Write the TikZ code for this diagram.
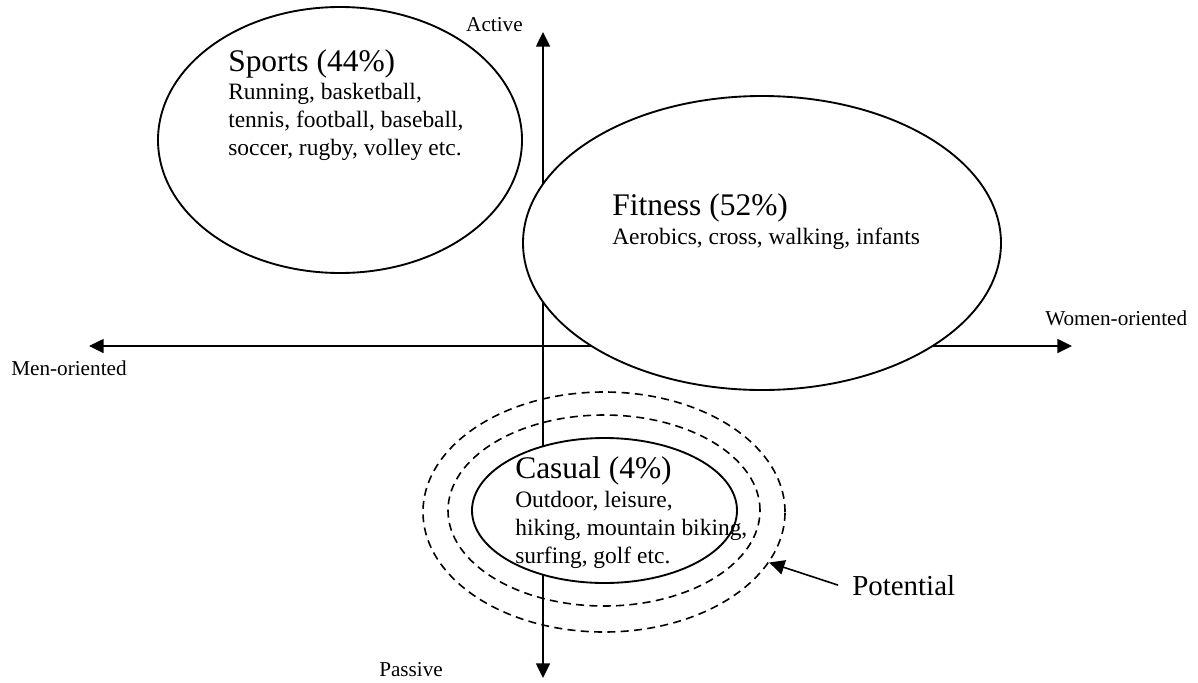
\documentclass[tikz,border=0pt]{standalone}
\usepackage{fontspec}
\setmainfont{Liberation Serif}
\usetikzlibrary{shapes.geometric,arrows.meta,positioning}
\tikzset{
  zone/.style={
    shape = ellipse,
    draw,
    fill = white,
    line width = 1.4pt,
    inner sep = 0pt
  },
  halo/.style={
    shape = ellipse,
    draw,
    dash pattern = on 6pt off 4pt,
    line width = 1.2pt,
    inner sep = 0pt
  },
  axis/.style={
    line width = 1.1pt,
    {Triangle[length=11pt,width=10.5pt]}-{Triangle[length=11pt,width=10.5pt]}
  },
  pointer/.style={
    line width = 1.2pt,
    -{Triangle[length=11.5pt,width=11pt]}
  },
  zonetitle/.style={
    anchor = base west,
    inner sep = 0pt,
    font = \fontsize{23.6}{28}\selectfont
  },
  zonetext/.style={
    anchor = base west,
    inner sep = 0pt,
    font = \fontsize{17.6}{21}\selectfont
  },
  axlabel/.style={
    inner sep = 0pt,
    font = \fontsize{15.9}{19}\selectfont
  }
}

\begin{document}
\begin{tikzpicture}[x=0.75pt,y=-0.75pt]
    \def\px{0.75pt}
    \def\ox{543}
    \def\oy{346}
    \def\dl{28}
    \useasboundingbox (0,0) rectangle (1198,682);
    \coordinate (top) at (\ox,32);
    \coordinate (bottom) at (\ox,678);
    \coordinate (left) at (89,\oy);
    \coordinate (right) at (1072,\oy);
    \node[zone, minimum width=364*\px, minimum height=266*\px] (sports) at (340,140) {};
    \node[halo, minimum width=362*\px, minimum height=240*\px] (outer) at (604,512) {};
    \node[halo, minimum width=312*\px, minimum height=191*\px] (inner) at (604,510.5) {};
    \draw[axis] (bottom) -- (top);
    \draw[axis] (left) -- (right);
    \node[zone, minimum width=478*\px, minimum height=294*\px] (fitness) at (762,243) {};
    \node[zone, minimum width=265*\px, minimum height=145*\px] (casual) at (604.5,510.5) {};
    \node[zonetitle] (sportsT) at (228,71) {Sports (44\%)};
    \foreach \t [count=\i] in {{Running, basketball,},{tennis, football, baseball,},{soccer, rugby, volley etc.}}{
    \node[zonetext] (sports\i) at (228,71+\i*\dl) {\t};}
    \node[zonetitle] (fitnessT) at (612,215) {Fitness (52\%)};
    \node[zonetext] (fitness1) at (612,244) {Aerobics, cross, walking, infants};
    \node[zonetitle] (casualT) at (515,478) {Casual (4\%)};
    \foreach \t [count=\i] in {{Outdoor, leisure,},{hiking, mountain biking,},{surfing, golf etc.}}{
    \node[zonetext] (casual\i) at (515,479+\i*\dl) {\t};}
    \node[axlabel, anchor=base east] (active) at (523,31) {Active};
    \node[axlabel, anchor=base west] (passive) at (379,676) {Passive};
    \node[axlabel, anchor=base west] (men) at (11,375) {Men-oriented};
    \node[axlabel, anchor=base west] (women) at (1045,325) {Women-oriented};
    \node[anchor=base west, inner sep=0pt, font=\fontsize{21.7}{26}\selectfont] (potential) at (852,595) {Potential};
    \draw[pointer] ([xshift=-10.5pt]potential.west) -- (outer.-17);
\end{tikzpicture}
\end{document}
